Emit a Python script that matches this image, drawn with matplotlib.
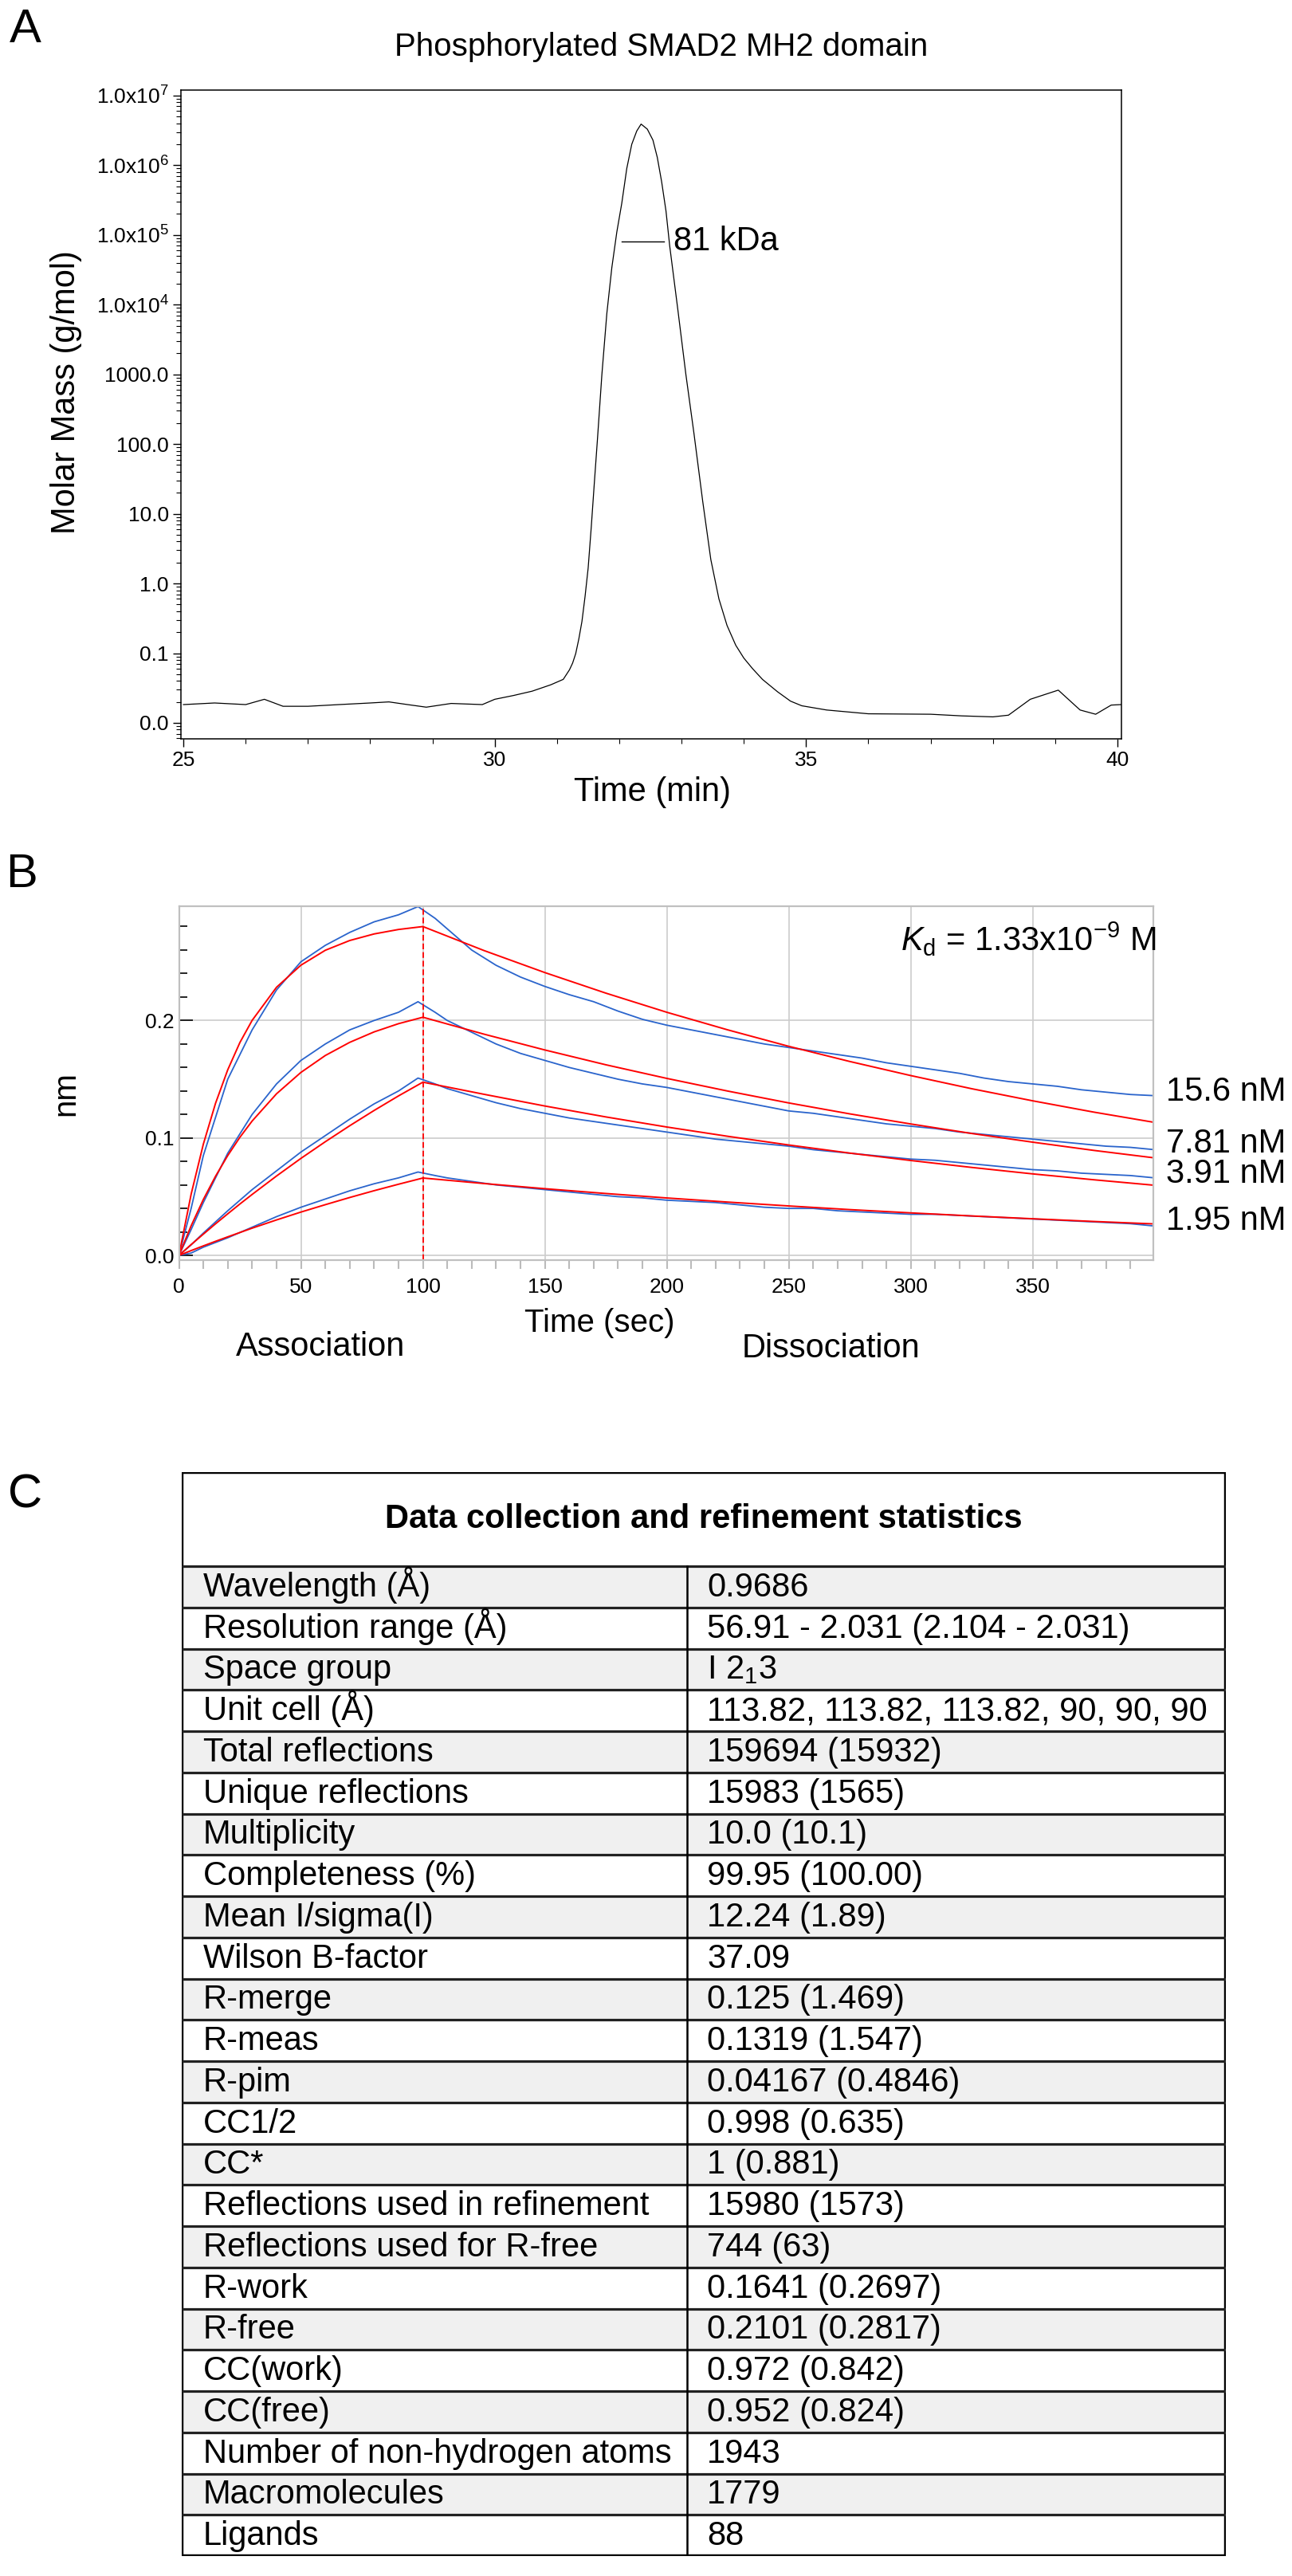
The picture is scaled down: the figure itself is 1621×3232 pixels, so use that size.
import matplotlib
matplotlib.use("Agg")
import matplotlib.pyplot as plt
from matplotlib.ticker import FixedLocator, FixedFormatter, MultipleLocator, LogLocator, NullFormatter
from matplotlib.patches import Rectangle

plt.rcParams['font.family'] = ['Liberation Sans', 'DejaVu Sans']
plt.rcParams['mathtext.fontset'] = 'custom'
plt.rcParams['mathtext.rm'] = 'Liberation Sans'
plt.rcParams['mathtext.it'] = 'Liberation Sans:italic'
plt.rcParams['mathtext.bf'] = 'Liberation Sans:bold'

# ---- panel A : SEC-MALS trace
sec_time = [25.0, 25.5, 26.0, 26.3, 26.6, 27.0, 27.5, 28.0, 28.3, 28.6, 28.9, 29.3, 29.8,
            30.0, 30.3, 30.6, 30.9, 31.1, 31.2, 31.25, 31.3, 31.35, 31.4, 31.45, 31.5,
            31.55, 31.6, 31.65, 31.72, 31.8, 31.88, 31.96, 32.04, 32.12, 32.2, 32.28,
            32.35, 32.45, 32.54, 32.61, 32.68, 32.75, 32.81, 32.94, 33.07, 33.2, 33.34,
            33.47, 33.6, 33.73, 33.87, 34.0, 34.14, 34.3, 34.54, 34.75, 34.93, 35.33,
            36.0, 37.0, 37.5, 38.0, 38.25, 38.6, 39.05, 39.4, 39.65, 39.9, 40.06]
sec_mass = [0.0183, 0.0193, 0.0183, 0.0218, 0.0173, 0.0173, 0.0183, 0.0193, 0.0200, 0.0183,
            0.0168, 0.0190, 0.0183, 0.0218, 0.0247, 0.0285, 0.0352, 0.0421, 0.0578, 0.072,
            0.0986, 0.16, 0.285, 0.65, 1.67, 6.5, 28.5, 120, 986, 7500, 3.4e4, 1.1e5,
            2.86e5, 9e5, 2.0e6, 3.1e6, 3.9e6, 3.3e6, 2.3e6, 1.3e6, 5.8e5, 2.2e5, 6.9e4,
            8500, 986, 140, 15, 2.2, 0.6, 0.25, 0.13, 0.085, 0.06, 0.042, 0.028, 0.0205,
            0.0176, 0.0153, 0.0135, 0.0133, 0.0126, 0.0122, 0.0129, 0.0218, 0.0295, 0.0153,
            0.0133, 0.0180, 0.0183]
mass_ticks = [0.01, 0.1, 1, 10, 100, 1000, 1e4, 1e5, 1e6, 1e7]
mass_tick_labels = ['0.0', '0.1', '1.0', '10.0', '100.0', '1000.0',
                    '1.0x10$^{4}$', '1.0x10$^{5}$', '1.0x10$^{6}$', '1.0x10$^{7}$']
peak_mass = 81000
peak_label = '81 kDa'

# ---- panel B : BLI sensorgrams
concs = ['15.6 nM', '7.81 nM', '3.91 nM', '1.95 nM']
t_blue = [0, 5, 10, 20, 30, 40, 50, 60, 70, 80, 90, 98, 105, 110,
          120, 130, 140, 150, 160, 170, 180, 190, 200, 210, 220, 230, 240, 250, 260,
          270, 280, 290, 300, 310, 320, 330, 340, 350, 360, 370, 380, 390, 400]
blue_15_6 = [0.000, 0.040, 0.085, 0.150, 0.192, 0.226, 0.250, 0.264, 0.275, 0.284, 0.290,
             0.297, 0.287, 0.278, 0.260, 0.247, 0.237, 0.229, 0.222, 0.216, 0.208, 0.201,
             0.196, 0.192, 0.188, 0.184, 0.180, 0.177, 0.174, 0.171, 0.168, 0.164, 0.161,
             0.158, 0.155, 0.151, 0.148, 0.146, 0.144, 0.141, 0.139, 0.137, 0.136]
blue_7_81 = [0.000, 0.022, 0.045, 0.087, 0.120, 0.146, 0.166, 0.180, 0.192, 0.200, 0.207,
             0.216, 0.207, 0.200, 0.190, 0.180, 0.172, 0.166, 0.160, 0.155, 0.150, 0.146,
             0.143, 0.139, 0.135, 0.131, 0.127, 0.123, 0.121, 0.118, 0.115, 0.112, 0.110,
             0.108, 0.105, 0.103, 0.101, 0.099, 0.097, 0.095, 0.093, 0.092, 0.090]
blue_3_91 = [0.000, 0.009, 0.019, 0.038, 0.056, 0.072, 0.088, 0.102, 0.116, 0.129, 0.140,
             0.151, 0.146, 0.142, 0.136, 0.130, 0.125, 0.121, 0.117, 0.114, 0.111, 0.108,
             0.105, 0.102, 0.099, 0.097, 0.095, 0.093, 0.090, 0.088, 0.086, 0.084, 0.082,
             0.081, 0.079, 0.077, 0.075, 0.073, 0.072, 0.070, 0.069, 0.068, 0.066]
blue_1_95 = [0.000, 0.002, 0.007, 0.015, 0.024, 0.033, 0.041, 0.048, 0.055, 0.061, 0.066,
             0.071, 0.068, 0.066, 0.063, 0.060, 0.058, 0.056, 0.054, 0.052, 0.050, 0.049,
             0.047, 0.046, 0.045, 0.043, 0.041, 0.040, 0.040, 0.038, 0.037, 0.036, 0.035,
             0.035, 0.034, 0.033, 0.032, 0.031, 0.030, 0.029, 0.028, 0.027, 0.025]
t_fit = [0, 5, 10, 15, 20, 25, 30, 40, 50, 60, 70, 80, 90, 100,
         125, 150, 175, 200, 225, 250, 275, 300, 325, 350, 375, 400]
fit_15_6 = [0.0, 0.0521, 0.0947, 0.1295, 0.1580, 0.1813, 0.2001, 0.2283, 0.2471, 0.2598,
            0.2681, 0.2737, 0.2775, 0.2800, 0.2596, 0.2408, 0.2233, 0.2070, 0.1920, 0.1780,
            0.1651, 0.1531, 0.1419, 0.1316, 0.1220, 0.1132]
fit_7_81 = [0.0, 0.0252, 0.0476, 0.0674, 0.0850, 0.1006, 0.1144, 0.1376, 0.1558, 0.1702,
            0.1814, 0.1903, 0.1973, 0.2028, 0.1884, 0.1749, 0.1623, 0.1507, 0.1399, 0.1298,
            0.1205, 0.1119, 0.1038, 0.0964, 0.0894, 0.0830]
fit_3_91 = [0.0, 0.0092, 0.0181, 0.0269, 0.0354, 0.0438, 0.0519, 0.0676, 0.0826, 0.0968,
            0.1104, 0.1234, 0.1358, 0.1475, 0.1372, 0.1272, 0.1179, 0.1093, 0.1014, 0.0940,
            0.0871, 0.0808, 0.0749, 0.0694, 0.0644, 0.0597]
fit_1_95 = [0.0, 0.0041, 0.0081, 0.0120, 0.0158, 0.0195, 0.0232, 0.0302, 0.0369, 0.0432,
            0.0493, 0.0551, 0.0606, 0.0659, 0.0612, 0.0568, 0.0527, 0.0489, 0.0454, 0.0421,
            0.0390, 0.0362, 0.0336, 0.0312, 0.0289, 0.0268]
blue_all = [blue_15_6, blue_7_81, blue_3_91, blue_1_95]
fit_all = [fit_15_6, fit_7_81, fit_3_91, fit_1_95]
conc_label_y = [1370, 1435, 1473, 1532]
kd_text = r'$K_\mathrm{d}$ = 1.33x10$^{-9}$ M'

# ---- panel C : table
stat_names = ['Wavelength (Å)', 'Resolution range (Å)', 'Space group', 'Unit cell (Å)',
              'Total reflections', 'Unique reflections', 'Multiplicity', 'Completeness (%)',
              'Mean I/sigma(I)', 'Wilson B-factor', 'R-merge', 'R-meas', 'R-pim', 'CC1/2',
              'CC*', 'Reflections used in refinement', 'Reflections used for R-free',
              'R-work', 'R-free', 'CC(work)', 'CC(free)', 'Number of non-hydrogen atoms',
              'Macromolecules', 'Ligands']
stat_values = ['0.9686', '56.91 - 2.031 (2.104 - 2.031)', 'I 2$_1$3',
               '113.82, 113.82, 113.82, 90, 90, 90', '159694 (15932)', '15983 (1565)',
               '10.0 (10.1)', '99.95 (100.00)', '12.24 (1.89)', '37.09', '0.125 (1.469)',
               '0.1319 (1.547)', '0.04167 (0.4846)', '0.998 (0.635)', '1 (0.881)',
               '15980 (1573)', '744 (63)', '0.1641 (0.2697)', '0.2101 (0.2817)',
               '0.972 (0.842)', '0.952 (0.824)', '1943', '1779', '88']
table_title = 'Data collection and refinement statistics'

W, H = 1621, 3232
fig = plt.figure(figsize=(W / 100, H / 100), dpi=100)


def fx(x):
    return x / W


def fy(y):
    return 1 - y / H


def box(l, t, r, b):
    return [l / W, 1 - b / H, (r - l) / W, (b - t) / H]


# A
ax = fig.add_axes(box(227, 113, 1407, 927))
ax.plot(sec_time, sec_mass, color='black', lw=0.9)
ax.set_yscale('log')
ax.set_xlim(24.96, 40.064)
ax.set_ylim(0.0059, 1.2e7)
ax.yaxis.set_major_locator(FixedLocator(mass_ticks))
ax.yaxis.set_major_formatter(FixedFormatter(mass_tick_labels))
ax.yaxis.set_minor_locator(LogLocator(base=10, subs=range(2, 10), numticks=30))
ax.yaxis.set_minor_formatter(NullFormatter())
ax.xaxis.set_major_locator(FixedLocator([25, 30, 35, 40]))
ax.xaxis.set_minor_locator(MultipleLocator(1))
ax.tick_params(which='major', direction='out', length=7, width=1.0, labelsize=19, pad=4)
ax.tick_params(which='minor', direction='out', length=4, width=0.8)
for s in ax.spines.values():
    s.set_linewidth(1.1)
ax.plot([32.04, 32.72], [peak_mass, peak_mass], color='black', lw=1.0)
ax.text(32.87, peak_mass, peak_label, fontsize=30, va='center', ha='left')

fig.text(fx(12), fy(53), 'A', fontsize=43, ha='left', va='baseline')
fig.text(fx(830), fy(59), 'Phosphorylated SMAD2 MH2 domain', fontsize=29, ha='center', va='center')
fig.text(fx(83), fy(492), 'Molar Mass (g/mol)', fontsize=30, rotation=90, ha='center', va='center')
fig.text(fx(818), fy(994), 'Time (min)', fontsize=30, ha='center', va='center')

# B
bx = fig.add_axes(box(224.5, 1137, 1446.7, 1581))
bx.set_axisbelow(True)
for b, r in zip(blue_all, fit_all):
    bx.plot(t_blue, b, color='#2a64cc', lw=1.3)
    bx.plot(t_fit, r, color='red', lw=1.4)
bx.axvline(100, color='red', ls=(0, (4, 2)), lw=1.3)
bx.set_xlim(0, 399.3)
bx.set_ylim(-0.004, 0.2973)
bx.xaxis.set_major_locator(MultipleLocator(50))
bx.xaxis.set_minor_locator(MultipleLocator(10))
bx.yaxis.set_major_locator(FixedLocator([0.0, 0.1, 0.2]))
bx.yaxis.set_major_formatter(FixedFormatter(['0.0', '0.1', '0.2']))
bx.yaxis.set_minor_locator(MultipleLocator(0.02))
bx.grid(True, which='major', color='#cccccc', lw=1.2)
bx.tick_params(axis='x', which='both', direction='out', length=8, width=1.5,
               color='#bbbbbb', labelsize=19, pad=8)
bx.tick_params(axis='y', which='major', direction='in', length=12, width=1.2,
               color='black', labelsize=19, pad=4)
bx.tick_params(axis='y', which='minor', direction='in', length=7, width=1.2, color='black')
for s in bx.spines.values():
    s.set_color('#c0c0c0')
    s.set_linewidth(1.6)

fig.text(fx(1450), fy(1178), kd_text, fontsize=30, ha='right', va='center')
for lab, yy in zip(concs, conc_label_y):
    fig.text(fx(1463), fy(yy), lab, fontsize=30, ha='left', va='center')
fig.text(fx(7), fy(1113), 'B', fontsize=43, ha='left', va='baseline')
fig.text(fx(82), fy(1372), 'nm', fontsize=29, rotation=90, ha='center', va='center')
fig.text(fx(752), fy(1660), 'Time (sec)', fontsize=29, ha='center', va='center')
fig.text(fx(402), fy(1690), 'Association', fontsize=30, ha='center', va='center')
fig.text(fx(1042), fy(1692), 'Dissociation', fontsize=30, ha='center', va='center')

# C
fig.text(fx(10), fy(1892), 'C', fontsize=43, ha='left', va='baseline')
cx = fig.add_axes(box(228, 1847, 1538, 3207))
cx.set_xlim(228, 1538)
cx.set_ylim(3207, 1847)
cx.axis('off')
head_bottom = 1965
row_h = (3207 - head_bottom) / len(stat_names)
for i in range(len(stat_names)):
    top = head_bottom + i * row_h
    if i % 2 == 0:
        cx.add_patch(Rectangle((228, top), 1310, row_h, facecolor='#f0f0f0', edgecolor='none'))
    cx.plot([228, 1538], [top, top], color='#222222', lw=2.3, solid_capstyle='butt')
    cx.text(255, top + row_h * 0.73, stat_names[i], fontsize=30, ha='left', va='baseline')
    cx.text(887, top + row_h * 0.73, stat_values[i], fontsize=30, ha='left', va='baseline')
cx.plot([862, 862], [head_bottom, 3207], color='black', lw=1.8)
cx.add_patch(Rectangle((228, 1847), 1310, 1360, fill=False, edgecolor='black', lw=3.2))
cx.text(883, 1906, table_title, fontsize=30, fontweight='bold', ha='center', va='center')

fig.savefig('out.png', dpi=100)
